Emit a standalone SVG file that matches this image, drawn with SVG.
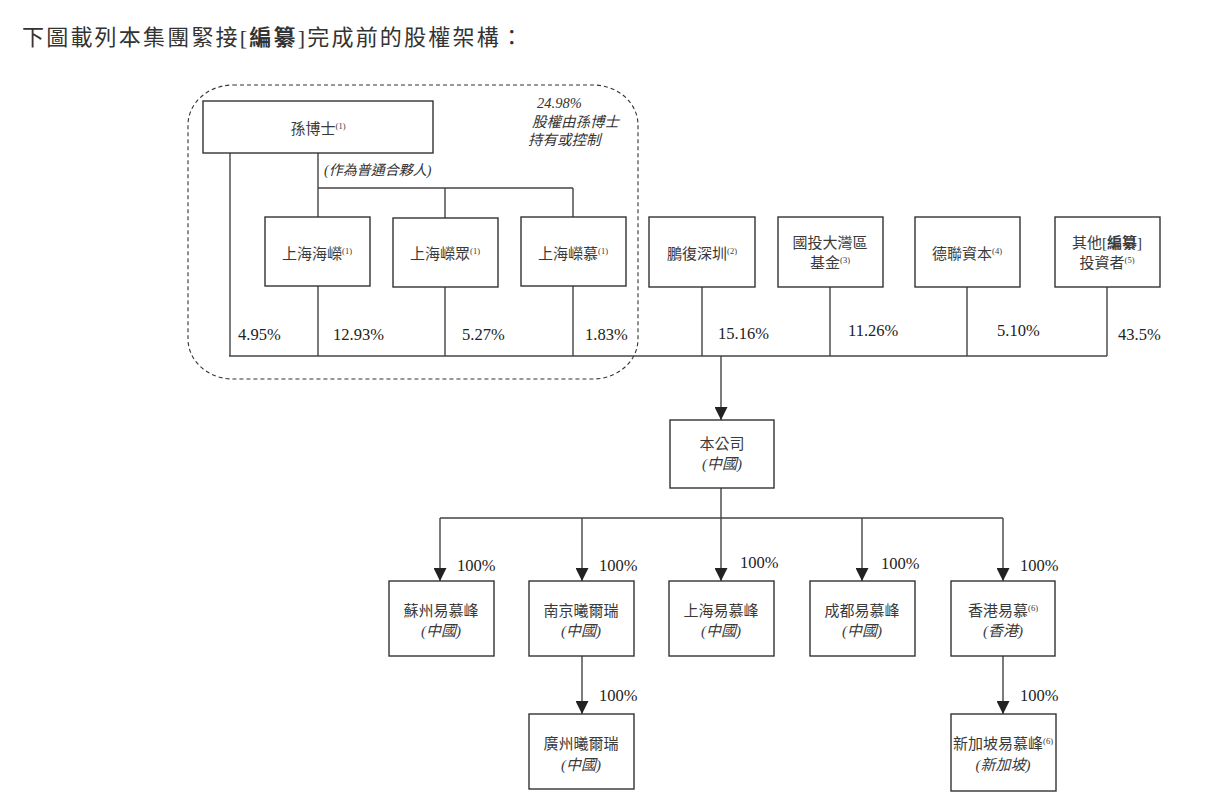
<svg xmlns="http://www.w3.org/2000/svg" width="1209" height="807" viewBox="0 0 1209 807">
<defs>
<style>
.t{font-family:"Liberation Serif","Noto Sans CJK TC",serif;fill:#333;}
.c{font-family:"Liberation Serif","Noto Sans CJK TC",serif;fill:#3a3a3a;font-size:15px;text-anchor:middle;}
.i{font-style:italic;}
.p{font-family:"Liberation Serif",serif;fill:#222;font-size:16.5px;}
.box{fill:#fff;stroke:#333;stroke-width:1.4;}
.ln{fill:none;stroke:#444;stroke-width:1.4;}
.sup{font-size:8.5px;}
</style>
<marker id="ah" viewBox="0 -6.5 13 13" refX="13" refY="0" markerWidth="13" markerHeight="13" markerUnits="userSpaceOnUse" orient="auto">
<path d="M0,-6.5 L13,0 L0,6.5 z" fill="#222"/>
</marker>
</defs>
<rect width="1209" height="807" fill="#fff"/>

<text class="t" x="22" y="45" font-size="22" letter-spacing="2.2">下圖載列本集團緊接[<tspan font-weight="bold">編纂</tspan>]完成前的股權架構：</text>

<g id="group-boundary">
<rect x="188" y="85" width="450" height="294" rx="45" ry="40" fill="none" stroke="#333" stroke-width="1.1" stroke-dasharray="4 3"/>
<text class="t i" font-size="14.5" x="537" y="108" font-family="Liberation Serif">24.98%</text>
<text class="t i" font-size="14.5" x="532" y="127">股權由孫博士</text>
<text class="t i" font-size="14.5" x="528" y="145">持有或控制</text>
</g>

<g id="connectors">
<!-- from Dr Sun -->
<path class="ln" d="M230,153 V356"/>
<path class="ln" d="M318,153 V188 M318,188 H573 M318,188 V217 M445,188 V218 M573,188 V217"/>
<!-- from LPs -->
<path class="ln" d="M318,286 V356 M445,287 V356 M573,286 V356"/>
<path class="ln" d="M702,287 V356 M830,287 V356 M967,287 V356 M1107,287 V356"/>
<path class="ln" d="M229,356 H1107"/>
<path class="ln" d="M721,356 V420" marker-end="url(#ah)"/>
<!-- to subsidiaries -->
<path class="ln" d="M721,488 V518 M440,518 H1003"/>
<path class="ln" d="M440,518 V581" marker-end="url(#ah)"/>
<path class="ln" d="M582,518 V581" marker-end="url(#ah)"/>
<path class="ln" d="M721,518 V581" marker-end="url(#ah)"/>
<path class="ln" d="M862,518 V581" marker-end="url(#ah)"/>
<path class="ln" d="M1003,518 V581" marker-end="url(#ah)"/>
<path class="ln" d="M582,656 V714" marker-end="url(#ah)"/>
<path class="ln" d="M1003,656 V714" marker-end="url(#ah)"/>
<!-- labels -->
<text class="t i" font-size="14" x="324" y="175">(作為普通合夥人)</text>
<text class="p" x="238" y="340">4.95%</text>
<text class="p" x="333" y="340">12.93%</text>
<text class="p" x="462" y="340">5.27%</text>
<text class="p" x="585" y="340">1.83%</text>
<text class="p" x="718" y="339">15.16%</text>
<text class="p" x="848" y="336">11.26%</text>
<text class="p" x="997" y="336">5.10%</text>
<text class="p" x="1118" y="340">43.5%</text>
<text class="p" x="457" y="571">100%</text>
<text class="p" x="599" y="571">100%</text>
<text class="p" x="740" y="568">100%</text>
<text class="p" x="881" y="569">100%</text>
<text class="p" x="1020" y="571">100%</text>
<text class="p" x="599" y="701">100%</text>
<text class="p" x="1020" y="701">100%</text>
</g>

<g id="dr-sun">
<rect class="box" x="203" y="101" width="230" height="52"/>
<text class="c" x="318" y="134">孫博士<tspan class="sup" dy="-5">(1)</tspan></text>
</g>
<g id="shanghai-hairong">
<rect class="box" x="265" y="217" width="105" height="69"/>
<text class="c" x="317" y="259">上海海嶸<tspan class="sup" dy="-5">(1)</tspan></text>
</g>
<g id="shanghai-rongzhong">
<rect class="box" x="393" y="218" width="105" height="69"/>
<text class="c" x="445" y="259">上海嶸眾<tspan class="sup" dy="-5">(1)</tspan></text>
</g>
<g id="shanghai-rongmu">
<rect class="box" x="521" y="217" width="105" height="69"/>
<text class="c" x="573" y="259">上海嶸慕<tspan class="sup" dy="-5">(1)</tspan></text>
</g>
<g id="pengfu-shenzhen">
<rect class="box" x="649" y="217" width="106" height="70"/>
<text class="c" x="702" y="259">鵬復深圳<tspan class="sup" dy="-5">(2)</tspan></text>
</g>
<g id="sdic-gba-fund">
<rect class="box" x="778" y="217" width="105" height="70"/>
<text class="c" x="830" y="248">國投大灣區</text>
<text class="c" x="830" y="268">基金<tspan class="sup" dy="-5">(3)</tspan></text>
</g>
<g id="delian-capital">
<rect class="box" x="915" y="217" width="105" height="70"/>
<text class="c" x="967" y="259">德聯資本<tspan class="sup" dy="-5">(4)</tspan></text>
</g>
<g id="other-investors">
<rect class="box" x="1055" y="217" width="105" height="70"/>
<text class="c" x="1107" y="248">其他[<tspan font-weight="bold">編纂</tspan>]</text>
<text class="c" x="1107" y="268">投資者<tspan class="sup" dy="-5">(5)</tspan></text>
</g>
<g id="company">
<rect class="box" x="670" y="420" width="104" height="68"/>
<text class="c" x="722" y="449">本公司</text>
<text class="c i" x="722" y="469">(中國)</text>
</g>
<g id="suzhou">
<rect class="box" x="389" y="581" width="105" height="75"/>
<text class="c" x="441" y="616">蘇州易慕峰</text>
<text class="c i" x="441" y="636">(中國)</text>
</g>
<g id="nanjing">
<rect class="box" x="529" y="581" width="105" height="75"/>
<text class="c" x="581" y="616">南京曦爾瑞</text>
<text class="c i" x="581" y="636">(中國)</text>
</g>
<g id="shanghai-yimufeng">
<rect class="box" x="669" y="581" width="105" height="75"/>
<text class="c" x="721" y="616">上海易慕峰</text>
<text class="c i" x="721" y="636">(中國)</text>
</g>
<g id="chengdu">
<rect class="box" x="810" y="581" width="105" height="75"/>
<text class="c" x="862" y="616">成都易慕峰</text>
<text class="c i" x="862" y="636">(中國)</text>
</g>
<g id="hongkong">
<rect class="box" x="951" y="581" width="104" height="75"/>
<text class="c" x="1003" y="616">香港易慕<tspan class="sup" dy="-5">(6)</tspan></text>
<text class="c i" x="1003" y="636">(香港)</text>
</g>
<g id="guangzhou">
<rect class="box" x="529" y="714" width="105" height="75"/>
<text class="c" x="581" y="749">廣州曦爾瑞</text>
<text class="c i" x="581" y="770">(中國)</text>
</g>
<g id="singapore">
<rect class="box" x="951" y="714" width="105" height="77"/>
<text class="c" x="1003" y="749">新加坡易慕峰<tspan class="sup" dy="-5">(6)</tspan></text>
<text class="c i" x="1003" y="770">(新加坡)</text>
</g>
</svg>
